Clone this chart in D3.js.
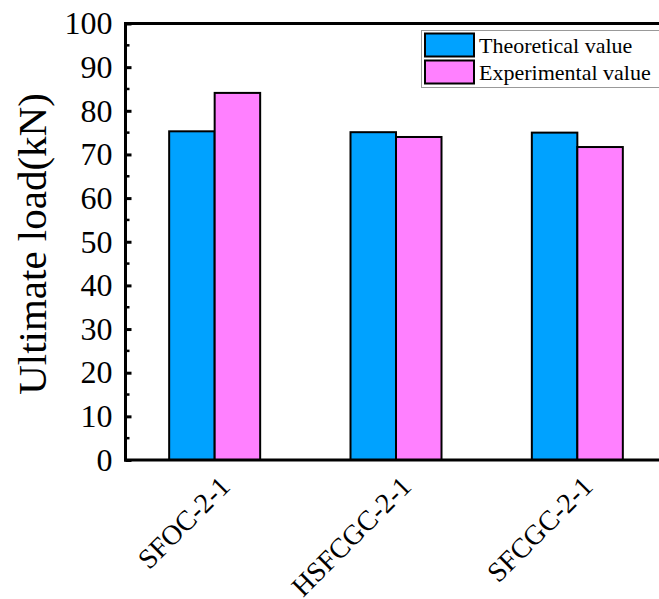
<!DOCTYPE html>
<html>
<head>
<meta charset="utf-8">
<script src="https://cdn.jsdelivr.net/npm/d3@7"></script>
<style>
  html, body { margin: 0; padding: 0; background: #fff; }
  svg { display: block; font-family: "Liberation Serif", "Times New Roman", serif; }
</style>
</head>
<body>
<svg id="chart"></svg>
<script>
// data
const categories = ["SFOC-2-1", "HSFCGC-2-1", "SFCGC-2-1"];
const seriesNames = ["Theoretical value", "Experimental value"];
const theoretical = [75.3, 75.1, 75.0];
const experimental = [84.1, 74.0, 71.7];
const yTicks = [0, 10, 20, 30, 40, 50, 60, 70, 80, 90, 100];

const width = 659, height = 599;
const svg = d3.select("#chart").attr("width", width).attr("height", height);

const colors = ["#00a2ff", "#ff80ff"];
const seriesValues = [theoretical, experimental];

// scales
const x0 = d3.scaleBand().domain(categories).range([124, 668]).padding(0);
const x1 = d3.scaleBand().domain(seriesNames).range([-45.5, 45.5]);
const y = d3.scaleLinear().domain([0, 100]).range([460, 23.5]);

const plotLeft = 125.5, plotRight = 700;

// bars
const groups = svg.append("g")
  .selectAll("g")
  .data(categories)
  .join("g")
  .attr("transform", d => `translate(${x0(d) + x0.bandwidth() / 2},0)`);

groups.selectAll("rect")
  .data((d, i) => seriesNames.map((s, j) => ({ s, v: seriesValues[j][i], j })))
  .join("rect")
  .attr("x", d => x1(d.s))
  .attr("y", d => y(d.v))
  .attr("width", x1.bandwidth())
  .attr("height", d => y(0) - y(d.v))
  .attr("fill", d => colors[d.j])
  .attr("stroke", "#000")
  .attr("stroke-width", 2);

// frame top line
svg.append("line")
  .attr("x1", plotLeft - 1.5).attr("x2", plotRight)
  .attr("y1", y(100)).attr("y2", y(100))
  .attr("stroke", "#000").attr("stroke-width", 3);

// y axis
const yAxis = d3.axisLeft(y).tickValues(yTicks).tickSize(-6).tickPadding(13);
const gy = svg.append("g")
  .attr("transform", `translate(${plotLeft},0)`)
  .call(yAxis);
gy.select(".domain").remove();
gy.selectAll(".tick line").attr("stroke", "#000").attr("stroke-width", 3);
gy.selectAll(".tick text")
  .attr("font-size", 32)
  .attr("font-family", "Liberation Serif, Times New Roman, serif")
  .attr("fill", "#000");

// minor ticks
svg.append("g")
  .selectAll("line")
  .data(d3.range(5, 100, 10))
  .join("line")
  .attr("x1", plotLeft).attr("x2", plotLeft + 4)
  .attr("y1", d => y(d)).attr("y2", d => y(d))
  .attr("stroke", "#000").attr("stroke-width", 2.5);

svg.append("line")
  .attr("x1", plotLeft).attr("x2", plotLeft)
  .attr("y1", y(100) - 1.5).attr("y2", y(0) + 1.5)
  .attr("stroke", "#000").attr("stroke-width", 3);

// x axis
svg.append("line")
  .attr("x1", plotLeft - 1.5).attr("x2", plotRight)
  .attr("y1", y(0)).attr("y2", y(0))
  .attr("stroke", "#000").attr("stroke-width", 3);

svg.append("g")
  .selectAll("text")
  .data(categories)
  .join("text")
  .attr("transform", d => `translate(${x0(d) + x0.bandwidth() / 2 + 17},488) rotate(-45)`)
  .attr("text-anchor", "end")
  .attr("font-size", 28)
  .attr("fill", "#000")
  .text(d => d);

// y title
svg.append("text")
  .attr("transform", `translate(46,244) rotate(-90)`)
  .attr("text-anchor", "middle")
  .attr("font-size", 41)
  .attr("fill", "#000")
  .text("Ultimate load(kN)");

// legend
const legend = svg.append("g");
legend.append("rect")
  .attr("x", 421.5).attr("y", 30.5)
  .attr("width", 260).attr("height", 57)
  .attr("fill", "#fff").attr("stroke", "#999").attr("stroke-width", 1);

const items = legend.selectAll("g.item")
  .data(seriesNames)
  .join("g")
  .attr("class", "item")
  .attr("transform", (d, i) => `translate(0,${i * 27})`);

items.append("rect")
  .attr("x", 425).attr("y", 33.5)
  .attr("width", 49).attr("height", 23)
  .attr("fill", (d, i) => colors[i])
  .attr("stroke", "#000").attr("stroke-width", 2);

items.append("text")
  .attr("x", 479).attr("y", 52.5)
  .attr("font-size", 22)
  .attr("fill", "#000")
  .text(d => d);
</script>
</body>
</html>
